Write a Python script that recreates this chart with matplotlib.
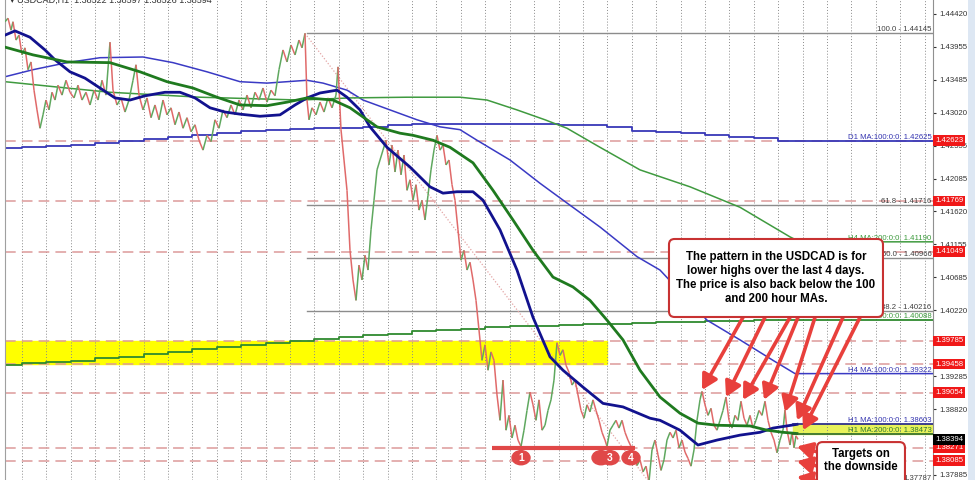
import numpy as np
import matplotlib
matplotlib.use("Agg")
import matplotlib.pyplot as plt
from matplotlib.collections import LineCollection
from matplotlib.patches import FancyBboxPatch, Ellipse, Rectangle
import matplotlib.transforms as mtransforms

plt.rcParams['font.family'] = ['Liberation Sans', 'DejaVu Sans']

# price path (H1 bars, close values)
price_bar = [0, 3, 6, 8, 11, 14, 17, 20, 23, 26, 29, 32, 35, 38, 41, 44, 47, 50, 53, 57,
             61, 65, 69, 73, 77, 81, 85, 89, 93, 97, 101, 105, 108, 112, 116, 120, 124, 128, 131, 134,
             138, 142, 146, 150, 154, 158, 162, 166, 170, 174, 178, 182, 186, 190, 194, 198, 202, 206, 210, 214,
             218, 222, 226, 230, 234, 238, 242, 246, 250, 254, 258, 262, 266, 270, 274, 278, 282, 286, 290, 294,
             297, 300, 302, 304, 307, 311, 315, 319, 323, 327, 331, 333, 336, 339, 342, 345, 348, 351, 354, 357,
             360, 363, 366, 369, 372, 375, 378, 381, 384, 387, 390, 393, 396, 399, 402, 405, 408, 411, 414, 417,
             420, 423, 426, 429, 432, 435, 438, 441, 444, 447, 450, 453, 456, 459, 462, 465, 468, 471, 474, 477,
             480, 483, 486, 489, 492, 495, 498, 501, 504, 507, 510, 513, 516, 519, 522, 525, 528, 531, 534, 537,
             540, 543, 546, 549, 552, 555, 558, 561, 564, 567, 570, 573, 576, 579, 582, 585, 588, 591, 594, 597,
             600, 602, 605, 608, 611, 614, 617, 620, 623, 626, 629, 632, 635, 638, 641, 644, 647, 650, 653, 656,
             659, 662, 665, 668, 671, 674, 677, 680, 683, 686, 689, 692, 695, 697, 700, 703, 706, 709, 712, 715,
             718, 721, 724, 727, 730, 733, 736, 739, 742, 745, 748, 751, 754, 757, 760, 763, 766, 769, 772, 775,
             778, 780, 782, 785, 787, 789, 791, 793]
price_close = [1.4431, 1.4436, 1.4419, 1.4431, 1.4405, 1.4412, 1.4384, 1.4394, 1.4363, 1.4374,
               1.4334, 1.4306, 1.4280, 1.4299, 1.4320, 1.4306, 1.4331, 1.4320, 1.4341, 1.4327,
               1.4348, 1.4331, 1.4323, 1.4341, 1.4320, 1.4331, 1.4313, 1.4334, 1.4320, 1.4348,
               1.4327, 1.4402, 1.4334, 1.4313, 1.4323, 1.4303, 1.4320, 1.4348, 1.4370, 1.4327,
               1.4306, 1.4323, 1.4295, 1.4313, 1.4292, 1.4320, 1.4299, 1.4309, 1.4285, 1.4303,
               1.4280, 1.4295, 1.4275, 1.4285, 1.4263, 1.4249, 1.4270, 1.4261, 1.4292, 1.4280,
               1.4306, 1.4295, 1.4313, 1.4299, 1.4320, 1.4306, 1.4327, 1.4309, 1.4331, 1.4320,
               1.4337, 1.4317, 1.4334, 1.4326, 1.4363, 1.4391, 1.4374, 1.4398, 1.4384, 1.4405,
               1.4394, 1.44145, 1.4320, 1.4292, 1.4309, 1.4299, 1.4317, 1.4303, 1.4323, 1.4309,
               1.4327, 1.4367, 1.4278, 1.4235, 1.4192, 1.4107, 1.4065, 1.4036, 1.4086, 1.4065,
               1.4100, 1.4079, 1.4136, 1.4178, 1.4221, 1.4235, 1.4249, 1.4263, 1.4228, 1.4256,
               1.4218, 1.4249, 1.4214, 1.4242, 1.4192, 1.4207, 1.4178, 1.4200, 1.4164, 1.4178,
               1.4150, 1.4185, 1.4221, 1.4249, 1.4270, 1.4249, 1.4256, 1.4228, 1.4235, 1.4200,
               1.4178, 1.4136, 1.4093, 1.4107, 1.4079, 1.4090, 1.4065, 1.4036, 1.3994, 1.3951,
               1.3973, 1.3937, 1.3963, 1.3951, 1.3902, 1.3866, 1.3923, 1.3852, 1.3873, 1.3841,
               1.3859, 1.3838, 1.3829, 1.3852, 1.3880, 1.3906, 1.3888, 1.3866, 1.3895, 1.3852,
               1.3859, 1.3880, 1.3895, 1.3923, 1.3976, 1.3958, 1.3966, 1.3944, 1.3934, 1.3916,
               1.3923, 1.3902, 1.3880, 1.3869, 1.3888, 1.3878, 1.3895, 1.3880, 1.3866, 1.3849,
               1.3838, 1.3829, 1.3852, 1.3859, 1.3866, 1.3855, 1.3866, 1.3849, 1.3838, 1.3829,
               1.3817, 1.3802, 1.3810, 1.3793, 1.3801, 1.37787, 1.3824, 1.3838, 1.3817, 1.3795,
               1.3810, 1.3838, 1.3849, 1.3841, 1.3852, 1.3827, 1.3838, 1.3821, 1.3812, 1.3801,
               1.3824, 1.3866, 1.3895, 1.3907, 1.3888, 1.3873, 1.3883, 1.3859, 1.3852, 1.3866,
               1.3880, 1.3899, 1.3866, 1.3855, 1.3873, 1.3866, 1.3893, 1.3869, 1.3859, 1.3873,
               1.3855, 1.3866, 1.3880, 1.3873, 1.3893, 1.3866, 1.3849, 1.3838, 1.3820, 1.3838,
               1.3852, 1.3881, 1.3852, 1.3831, 1.3849, 1.3827, 1.3844, 1.3839]

# moving averages
h1_ma100_bar = [0, 10, 25, 40, 50, 65, 80, 95, 110, 125, 140, 160, 175, 190, 205, 220, 235, 255, 275, 290,
                302, 315, 332, 342, 355, 365, 382, 405, 425, 438, 452, 468, 478, 495, 512, 528, 545, 558, 578, 598,
                618, 645, 655, 675, 693, 712, 735, 755, 768, 792]
h1_ma100 = [1.4412, 1.4418, 1.4409, 1.4391, 1.4377, 1.4360, 1.4351, 1.4337, 1.4323, 1.4320,
            1.4326, 1.4331, 1.4331, 1.4323, 1.4309, 1.4303, 1.4300, 1.4297, 1.4299, 1.4313,
            1.4323, 1.4330, 1.4334, 1.4324, 1.4306, 1.4282, 1.4253, 1.4225, 1.4197, 1.4188,
            1.4190, 1.4190, 1.4178, 1.4136, 1.4079, 1.4012, 1.3956, 1.3937, 1.3913, 1.3890,
            1.3885, 1.3869, 1.3866, 1.3852, 1.3831, 1.3838, 1.3845, 1.3849, 1.3855, 1.38603]
h1_ma200_bar = [0, 28, 62, 105, 135, 162, 188, 212, 235, 262, 282, 302, 328, 345, 362, 372, 395, 408, 428, 445,
                468, 488, 508, 528, 548, 568, 585, 602, 618, 635, 655, 675, 693, 712, 745, 762, 778, 792]
h1_ma200 = [1.4395, 1.4384, 1.4374, 1.4373, 1.4360, 1.4346, 1.4337, 1.4324, 1.4313, 1.4312,
            1.4317, 1.4323, 1.4320, 1.4309, 1.4292, 1.4282, 1.4273, 1.4270, 1.4263, 1.4253,
            1.4231, 1.4192, 1.4150, 1.4107, 1.4069, 1.4055, 1.4036, 1.4008, 1.3980, 1.3937,
            1.3899, 1.3876, 1.3862, 1.3859, 1.3858, 1.3852, 1.3849, 1.38473]
h4_ma100_bar = [0, 28, 62, 95, 138, 168, 202, 235, 262, 302, 318, 342, 358, 385, 412, 435, 455, 472, 505, 535,
                562, 595, 632, 655, 702, 735, 768, 790]
h4_ma100 = [1.4353, 1.4363, 1.4373, 1.4380, 1.4381, 1.4373, 1.4360, 1.4346, 1.4344, 1.4348,
            1.4344, 1.4334, 1.4320, 1.4306, 1.4292, 1.4282, 1.4278, 1.4263, 1.4235, 1.4202,
            1.4174, 1.4140, 1.4098, 1.4079, 1.4008, 1.3980, 1.3951, 1.39322]
h4_ma200_bar = [0, 62, 105, 195, 295, 345, 402, 455, 482, 512, 540, 562, 595, 635, 685, 735, 785, 795]
h4_ma200 = [1.4346, 1.4337, 1.4331, 1.4324, 1.4320, 1.4323, 1.4324, 1.4324, 1.4320, 1.4306,
            1.4292, 1.4280, 1.4253, 1.4221, 1.4197, 1.4168, 1.4126, 1.41190]
# daily MAs, one value per day
d1_ma100 = [1.4252, 1.4253, 1.4255, 1.4256, 1.4259, 1.4262, 1.4265, 1.4268, 1.4270, 1.4273,
            1.4276, 1.4278, 1.4279, 1.4280, 1.4281, 1.4282, 1.4284, 1.4286, 1.4286, 1.4286,
            1.4286, 1.4286, 1.4286, 1.4285, 1.4284, 1.4282, 1.4276, 1.4275, 1.4273, 1.4270,
            1.4268, 1.4266, 1.42625]
d1_ma200 = [1.3944, 1.3947, 1.3949, 1.3950, 1.3954, 1.3956, 1.3960, 1.3963, 1.3967, 1.3970,
            1.3973, 1.3976, 1.3978, 1.3981, 1.3984, 1.3987, 1.3989, 1.3992, 1.3994, 1.3996,
            1.3998, 1.3999, 1.4000, 1.4001, 1.4002, 1.4003, 1.4004, 1.4005, 1.4006, 1.4007,
            1.4007, 1.4008, 1.40088]

# levels
red_levels = [1.42623, 1.41769, 1.41049, 1.39785, 1.39458, 1.39054, 1.38271, 1.38085]
last_price = 1.38394
fib_high, fib_low = 1.44145, 1.37787
fib_high_bar, fib_low_bar = 300, 644
fib_pcts = ['100.0', '61.8', '50.0', '38.2']
fib_prices = [1.44145, 1.41716, 1.40966, 1.40216]
yticks = [1.44420, 1.43955, 1.43485, 1.43020, 1.42555, 1.42085, 1.41620, 1.41155,
          1.40685, 1.40220, 1.39755, 1.39285, 1.38820, 1.38355, 1.37885]
hidden_ticks = [1.39755, 1.38355]   # covered by the price labels

# annotation arrows: tips at the recent highs and the targets
high_tip_bar = [697, 721, 738, 759, 780, 792, 798]
high_tip_price = [1.3909, 1.3899, 1.3895, 1.3895, 1.3878, 1.3866, 1.3852]
high_tail_bar = [738, 760, 785, 793, 810, 838, 855]
target_tip_price = [1.3829, 1.3808, 1.3786]
target_tail_price = [1.3821, 1.3801, 1.3780]
low_marks_bar = [516, 596, 605, 626]
low_marks_text = ['1', '2', '3', '4']

W, H = 975, 480
fig = plt.figure(figsize=(W / 100, H / 100), dpi=100)
fig.patch.set_facecolor('white')
fig.patches.append(Rectangle((968 / W, 0), 7 / W, 1, transform=fig.transFigure,
                             facecolor='#dde7f3', edgecolor='none'))
ax = fig.add_axes([5 / W, 0, 928 / W, 1])
ax.set_xlim(0, 928)
ax.set_ylim(1.37814, 1.44618)

for s in ['top', 'bottom']:
    ax.spines[s].set_visible(False)
ax.spines['left'].set_color('#a0a0a0')
ax.spines['right'].set_color('#909090')
ax.set_xticks([])
ax.yaxis.tick_right()
ax.set_yticks(yticks)
ax.set_yticklabels(['' if t in hidden_ticks else f'{t:.5f}' for t in yticks])
ax.tick_params(axis='y', labelsize=5.6, length=2.5, pad=2, colors='#333333')

# yellow zones
ax.axhspan(1.39458, 1.39785, xmin=0, xmax=602 / 928, color='#ffff00', zorder=0)
ax.axhspan(1.38473, 1.38603, xmin=788 / 928, xmax=1, color='#e8f25a', zorder=0)

# day separators
day_len = 24.4
day_starts = [16.7 + day_len * k for k in range(38)]
for d in day_starts:
    ax.axvline(d, color='#8a8a8a', lw=0.7, ls=(0, (1, 2)), zorder=1)

for lv in red_levels:
    ax.axhline(lv, color='#dc9a9a', lw=1.1, ls=(0, (7, 4)), zorder=1)

# fibonacci
for fp in fib_prices + [fib_low]:
    ax.plot([fib_high_bar + 2, 928], [fp, fp], color='#8c8c8c', lw=1.0, zorder=1.5)
ax.plot([fib_high_bar, fib_low_bar], [fib_high, fib_low], color='#e3a5a5', lw=0.9,
        ls=(0, (1, 1.5)), zorder=1.5)

# daily MAs as steps
step_x = [0] + day_starts[:32] + [928]
ax.step(step_x, d1_ma100 + [d1_ma100[-1]], where='post', color='#3838b8', lw=1.3, zorder=2)
ax.step(step_x, d1_ma200 + [d1_ma200[-1]], where='post', color='#2f8a2f', lw=1.3, zorder=2)

# H4 MAs
ax.plot(h4_ma100_bar + [928], h4_ma100 + [h4_ma100[-1]], color='#3a3ac4', lw=1.1, zorder=2)
ax.plot(h4_ma200_bar + [928], h4_ma200 + [h4_ma200[-1]], color='#3f9a3f', lw=1.1, zorder=2)

# price
pts = np.column_stack([price_bar, price_close])
segs = np.stack([pts[:-1], pts[1:]], axis=1)
cols = np.where(np.diff(price_close) >= 0, '#5fa85f', '#e06a6a')
ax.add_collection(LineCollection(segs, colors=cols, linewidths=1.1, zorder=3))

# H1 MAs
ax.plot(h1_ma100_bar, h1_ma100, color='#12128e', lw=2.0, zorder=4)
ax.plot(h1_ma200_bar, h1_ma200, color='#1f7a1f', lw=2.0, zorder=4)
ax.plot([788, 928], [h1_ma100[-1]] * 2, color='#20208a', lw=1.2, zorder=4)
ax.plot([788, 928], [h1_ma200[-1]] * 2, color='#2a6a2a', lw=1.2, zorder=4)

# labels on the right side of the plot
trans = mtransforms.blended_transform_factory(ax.transAxes, ax.transData)
xr = 1 - 1.5 / 928
for pct, fp in zip(fib_pcts, fib_prices):
    ax.text(xr, fp, f'{pct} - {fp:.5f}', transform=trans, ha='right', va='bottom',
            fontsize=5.6, color='#404040', zorder=5)
ax.text(xr, fib_low, f'{fib_low:.5f}', transform=trans, ha='right', va='bottom',
        fontsize=5.6, color='#404040', zorder=5)
ma_labels = [('D1 MA:100:0:0: ', d1_ma100[-1], '#3434b0'),
             ('H4 MA:200:0:0: ', h4_ma200[-1], '#3c9a3c'),
             ('D1 MA:200:0:0: ', d1_ma200[-1], '#3c9a3c'),
             ('H4 MA:100:0:0: ', h4_ma100[-1], '#3434b0'),
             ('H1 MA:100:0:0: ', h1_ma100[-1], '#3434b0'),
             ('H1 MA:200:0:0: ', h1_ma200[-1], '#2e7a2e')]
for name, val, c in ma_labels:
    ax.text(xr, val, f'{name}{val:.5f}', transform=trans, ha='right', va='bottom',
            fontsize=5.6, color=c, zorder=5)

for lv in red_levels:
    ax.text(1 + 2 / 928, lv, f'{lv:.5f}', transform=trans, ha='left', va='center',
            fontsize=5.6, color='white', zorder=6, clip_on=False,
            bbox=dict(boxstyle='square,pad=0.25', fc='#f01818', ec='none'))
ax.text(1 + 2 / 928, last_price, f'{last_price:.5f}', transform=trans, ha='left', va='center',
        fontsize=5.6, color='white', zorder=6, clip_on=False,
        bbox=dict(boxstyle='square,pad=0.25', fc='#000000', ec='none'))

fig.text(10 / W, 1.0, '\u25be USDCAD,H1  1.38522 1.38597 1.38526 1.38594',
         fontsize=6.5, color='#303030', va='center', ha='left')

# support line with numbered lows
ax.plot([487, 630], [red_levels[6]] * 2, color='#e04848', lw=3, zorder=6,
        solid_capstyle='butt')
for b, t in zip(low_marks_bar, low_marks_text):
    ax.add_patch(Ellipse((b, 1.3813), 18, 0.0020, color='#e04848', zorder=7))
    if t != '2':
        ax.text(b, 1.3813, t, ha='center', va='center', fontsize=7.5, color='white',
                fontweight='bold', zorder=8)

arrow_kw = dict(arrowstyle='-|>,head_length=0.9,head_width=0.5', color='#e8403c',
                lw=2.6, mutation_scale=10, shrinkA=0, shrinkB=0)
for tb, tp, sb in zip(high_tip_bar, high_tip_price, high_tail_bar):
    ax.annotate('', xy=(tb, tp), xytext=(sb, 1.4012), arrowprops=arrow_kw, zorder=7)
for tp, sp in zip(target_tip_price, target_tail_price):
    ax.annotate('', xy=(792, tp), xytext=(813, sp), arrowprops=arrow_kw, zorder=7)

# text boxes
asp = 928 / 480
box1 = FancyBboxPatch((0.7155, 0.3396), 0.2306, 0.1625, transform=ax.transAxes,
                      boxstyle='round,pad=0,rounding_size=0.006', mutation_aspect=asp,
                      fc='white', ec='#c83232', lw=1.5, zorder=9)
ax.add_patch(box1)
ax.text(0.8308, 0.4208, 'The pattern in the USDCAD is for\nlower highs over the last 4 days.\n'
        'The price is also back below the 100\nand 200 hour MAs.',
        transform=ax.transAxes, ha='center', va='center', fontsize=8.3,
        fontweight='bold', linespacing=1.2, zorder=10)
box2 = FancyBboxPatch((0.875, -0.03), 0.0948, 0.109, transform=ax.transAxes,
                      boxstyle='round,pad=0,rounding_size=0.006', mutation_aspect=asp,
                      fc='white', ec='#c83232', lw=1.5, zorder=9, clip_on=False)
ax.add_patch(box2)
ax.text(0.9224, 0.040, 'Targets on\nthe downside', transform=ax.transAxes,
        ha='center', va='center', fontsize=8.3, fontweight='bold', linespacing=1.1, zorder=10)

fig.savefig('out.png', dpi=100)
